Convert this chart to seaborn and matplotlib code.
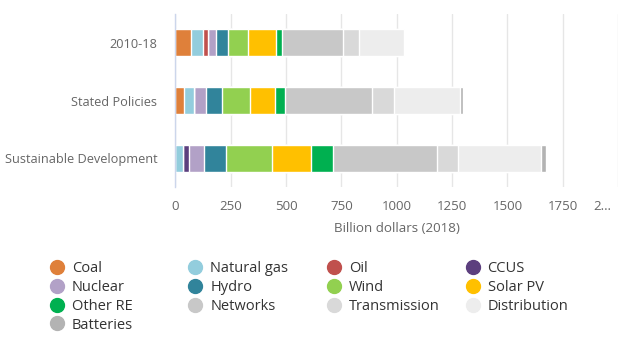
import matplotlib
matplotlib.use("Agg")
import matplotlib.pyplot as plt
import matplotlib.transforms as mtransforms
import seaborn as sns
import pandas as pd
import numpy as np
from matplotlib.lines import Line2D

scenarios = ["2010-18", "Stated Policies", "Sustainable Development"]
categories = ["Coal", "Natural gas", "Oil", "CCUS", "Nuclear", "Hydro", "Wind",
              "Solar PV", "Other RE", "Networks", "Transmission", "Distribution", "Batteries"]
coal = [72, 37, 0]
natural_gas = [52, 48, 34]
oil = [25, 0, 0]
ccus = [0, 0, 25]
nuclear = [33, 52, 71]
hydro = [57, 72, 97]
wind = [89, 126, 207]
solar_pv = [126, 115, 178]
other_re = [26, 47, 99]
networks = [279, 393, 469]
transmission = [71, 97, 98]
distribution = [201, 299, 374]
batteries = [0, 14, 23]
colors = ["#DF803A", "#93CDDD", "#C0504D", "#5C3F7E", "#B2A1C7", "#31849B", "#92D050",
          "#FFC000", "#00B050", "#C8C8C8", "#D9D9D9", "#EDEDED", "#B3B3B3"]
ticks = [0, 250, 500, 750, 1000, 1250, 1500, 1750, 2000]
tick_labels = ["0", "250", "500", "750", "1000", "1250", "1500", "1750", "2…"]

series = [coal, natural_gas, oil, ccus, nuclear, hydro, wind, solar_pv, other_re,
          networks, transmission, distribution, batteries]
df = pd.DataFrame({c: v for c, v in zip(categories, series)})
df["scenario"] = scenarios
cum = df[categories].cumsum(axis=1)
cum["scenario"] = scenarios

sns.set_theme(style="white")
plt.rcParams["font.family"] = ["Open Sans", "DejaVu Sans"]

W, H = 644, 346
fig = plt.figure(figsize=(W / 100, H / 100), dpi=100)
ax = fig.add_axes([175.5 / W, 159 / H, (618 - 175.5) / W, 173 / H])

for cat, col in reversed(list(zip(categories, colors))):
    sns.barplot(data=cum, x=cat, y="scenario", orient="h", color=col, width=0.47,
                edgecolor="white", linewidth=1.0, errorbar=None, ax=ax,
                saturation=1, order=scenarios)

ax.set_xlim(0, 2000)
ax.set_ylim(2.5, -0.5)
ax.set_xticks(ticks)
ax.set_xticklabels(tick_labels)
ax.grid(axis="x", color="#E6E6E6", linewidth=1)
ax.set_axisbelow(True)
for s in ["top", "right", "bottom"]:
    ax.spines[s].set_visible(False)
ax.spines["left"].set_color("#CCD6EB")
ax.spines["left"].set_linewidth(1)
ax.tick_params(axis="x", length=0, pad=9.5, labelsize=9.5, labelcolor="#666666")
ax.tick_params(axis="y", length=0, pad=13, labelsize=9.2, labelcolor="#666666")
ax.set_ylabel("")
ax.set_xlabel("Billion dollars (2018)", fontsize=9.6, color="#666666", labelpad=6.5)

last = ax.get_xticklabels()[-1]
last.set_transform(last.get_transform() +
                   mtransforms.ScaledTranslation(-16 / 100, 0, fig.dpi_scale_trans))

# legend: 4 columns, row-major, fixed column width
for i, (cat, col) in enumerate(zip(categories, colors)):
    r, c = divmod(i, 4)
    cx = 57 + c * 138.5
    cy = 267 + r * 18.8
    fig.add_artist(Line2D([cx / W], [1 - cy / H], marker="o", linestyle="",
                          markersize=10, markerfacecolor=col, markeredgecolor=col,
                          transform=fig.transFigure))
    fig.text((cx + 15) / W, 1 - cy / H, cat, fontsize=10.5, color="#333333",
             ha="left", va="center_baseline")

fig.savefig("out.png", dpi=100)
